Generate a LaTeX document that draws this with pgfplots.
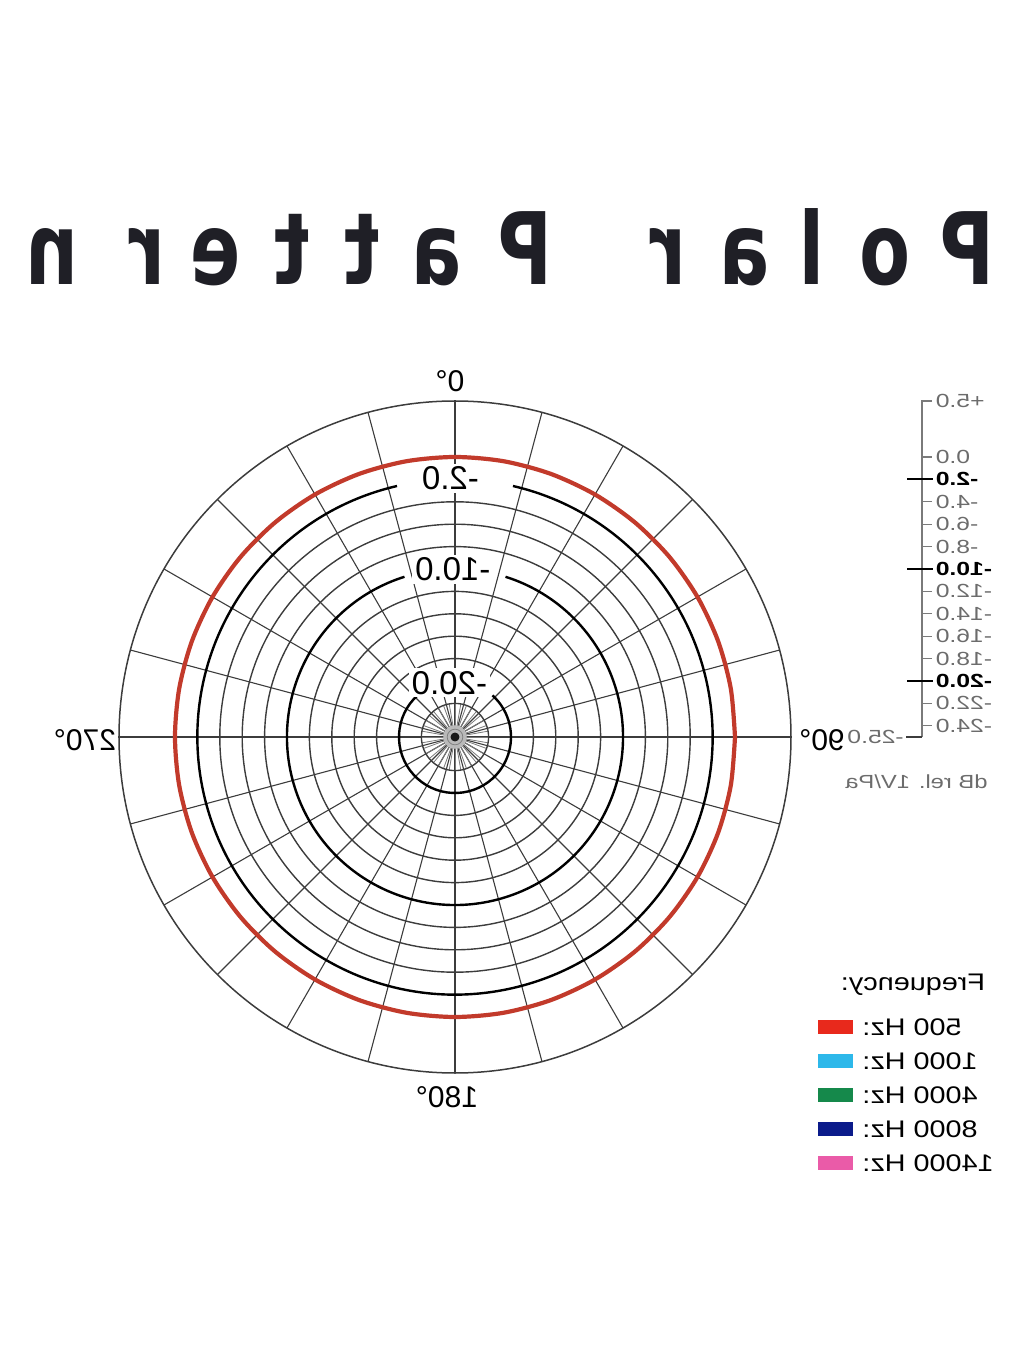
\documentclass[border=0pt]{standalone}
\usepackage{pgfplots}
\pgfplotsset{compat=1.18}
\usepackage{fontspec}
\setmainfont{Liberation Sans}
\newfontfamily\titlefont{DejaVu Sans}
\newcommand\mir[2][1]{\scalebox{-#1}[1]{#2}}
\definecolor{ringred}{HTML}{C23A2B}
\definecolor{gridgray}{HTML}{3C3C3C}
\definecolor{lightgray2}{HTML}{7A7A7A}
\definecolor{titlecol}{HTML}{1F1F26}
\definecolor{lg1}{HTML}{E8291C}
\definecolor{lg2}{HTML}{2DB8EA}
\definecolor{lg3}{HTML}{15894B}
\definecolor{lg4}{HTML}{0B1B8A}
\definecolor{lg5}{HTML}{EA5BA8}
\begin{document}
\begin{tikzpicture}
% ---------- polar grid (centre at origin, 1 unit = 1 dB) ----------
\begin{scope}[x=5.6pt,y=5.6pt]
  \foreach \a in {0,15,...,345} \draw[gridgray, line width=0.55pt] (0,0) -- (\a:30);
  \foreach \a in {0,10,...,350} \draw[lightgray2, line width=0.4pt] (\a:1) -- (\a:3);
  \foreach \r in {3,7,9,11,13,17,19,21} \draw[gridgray, line width=0.7pt] (0,0) circle (\r);
  \draw[gridgray, line width=0.75pt] (0,0) circle (30);
  \draw[black, line width=1.2pt] (90+13:23) arc[start angle=103, end angle=437, radius=23];
  \draw[black, line width=1.2pt] (90+17.5:15) arc[start angle=107.5, end angle=432.5, radius=15];
  \draw[black, line width=1.2pt] (90+42:5) arc[start angle=132, end angle=408, radius=5];
  \fill[gray!55] (0,0) circle (1.05);
  \draw[gray, line width=0.4pt] (0,0) circle (0.7);
  \fill[gray!20!black] (0,0) circle (0.4);
  \node[fill=white, inner sep=1.5pt, font=\fontsize{16.5}{18}\selectfont] at (-0.4,23.1) {\mir{-2.0}};
  \node[fill=white, inner sep=1.5pt, font=\fontsize{16.5}{18}\selectfont] at (-0.2,14.95) {\mir{-10.0}};
  \node[fill=white, inner sep=1.5pt, font=\fontsize{16.5}{18}\selectfont] at (-0.5,4.85) {\mir{-20.0}};
  % ---------- scale bar ----------
  \draw[lightgray2, line width=0.8pt] (41.7,0) -- (41.7,30) -- (42.5,30);
  \draw[gridgray, line width=0.9pt] (41.7,0) -- (40.3,0);
  \foreach \v/\t in {5/+5.0,0/0.0,-4/-4.0,-6/-6.0,-8/-8.0,-12/-12.0,-14/-14.0,-16/-16.0,-18/-18.0,-22/-22.0,-24/-24.0}{
    \draw[lightgray2, line width=0.6pt] (41.7,{\v+25}) -- (42.6,{\v+25});
    \node[anchor=west, inner sep=0pt, text=gray!85!black, font=\fontsize{9.5}{10}\selectfont] at (42.9,{\v+25}) {\mir[1.3]{\t}};
  }
  \foreach \v/\t in {-2/-2.0,-10/-10.0,-20/-20.0}{
    \draw[black, line width=1pt] (40.4,{\v+25}) -- (42.7,{\v+25});
    \node[anchor=west, inner sep=0pt, text=black, font=\bfseries\fontsize{9.5}{10}\selectfont] at (42.9,{\v+25}) {\mir[1.3]{\t}};
  }
  \node[anchor=east, inner sep=0pt, text=gray!85!black, font=\fontsize{9.5}{10}\selectfont] at (40.1,0) {\mir[1.3]{-25.0}};
  \node[inner sep=0pt, text=gray!85!black, font=\fontsize{9.5}{11}\selectfont] at (41.2,-4.0) {\mir[1.25]{dB rel. 1V/Pa}};
\end{scope}
% ---------- data ----------
\begin{axis}[at={(0pt,0pt)}, anchor=origin, x=5.6pt, y=5.6pt,
  xmin=-40.625, xmax=50.8, ymin=-56.07, ymax=65.8,
  hide axis, clip=false]
  % 500 Hz response, radius = level + 25 dB (0 dB -> 25)
  \addplot[data cs=polar, ringred, line width=2.1pt, smooth, no markers] coordinates {
   (0,25) (10,25) (20,25) (30,25) (40,25) (50,25) (60,25) (70,25) (80,25)
   (90,25) (100,25) (110,25) (120,25) (130,25) (140,25) (150,25) (160,25) (170,25)
   (180,25) (190,25) (200,25) (210,25) (220,25) (230,25) (240,25) (250,25) (260,25)
   (270,25) (280,25) (290,25) (300,25) (310,25) (320,25) (330,25) (340,25) (350,25) (360,25)};
\end{axis}
% ---------- annotations in pixel coordinates ----------
\begin{scope}[x=0.5pt,y=-0.5pt,shift={(-227.5pt,368.5pt)}]
  \path (0,0) rectangle (1024,1365);
  \foreach \x/\c in {967/P,885/o,812/l,745/a,668/r,525/P,437/a,362/t,292/t,215/e,147/r,52/n}
    \node[anchor=base, inner sep=0pt, text=titlecol] at (\x,285) {\titlefont\bfseries\fontsize{50}{60}\selectfont\mir[0.74]{\c}};
  \node[font=\fontsize{15}{17}\selectfont] at (450,381) {\mir{0°}};
  \node[font=\fontsize{15}{17}\selectfont] at (822,740) {\mir{90°}};
  \node[font=\fontsize{15}{17}\selectfont] at (447,1097) {\mir{180°}};
  \node[font=\fontsize{15}{17}\selectfont] at (85,740) {\mir{270°}};
  % legend
  \node[font=\fontsize{12}{14}\selectfont] at (913,985) {\mir[1.2]{Frequency:}};
  \foreach \y/\t/\c in {1027/500 Hz:/lg1,1061/1000 Hz:/lg2,1095/4000 Hz:/lg3,1129/8000 Hz:/lg4,1163/14000 Hz:/lg5}{
    \fill[\c] (818,\y-7) rectangle (853,\y+7);
    \node[anchor=west, inner sep=0pt, font=\fontsize{12}{14}\selectfont] at (862,\y) {\mir[1.2]{\t}};
  }
\end{scope}
\end{tikzpicture}
\end{document}
